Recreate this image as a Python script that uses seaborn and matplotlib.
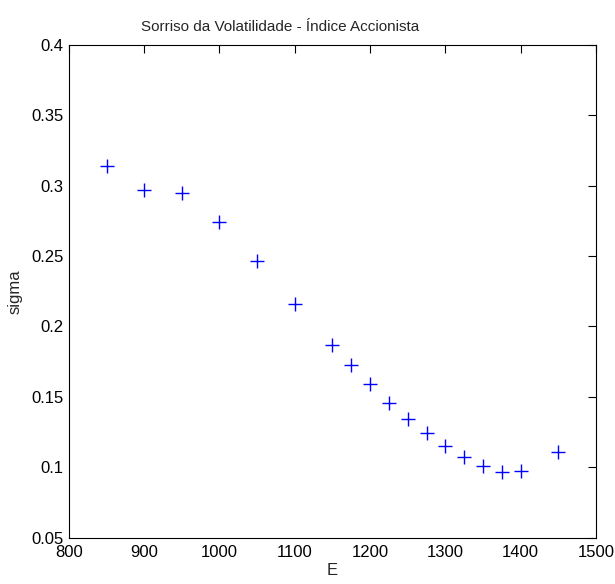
import matplotlib
matplotlib.use("Agg")
import matplotlib.pyplot as plt
import seaborn as sns
import pandas as pd
from matplotlib import font_manager

strike = [850, 900, 950, 1000, 1050, 1100, 1150, 1175, 1200, 1225, 1250,
          1275, 1300, 1325, 1350, 1375, 1400, 1450]
sigma = [0.314, 0.2967, 0.2948, 0.274, 0.2465, 0.216, 0.187, 0.1728, 0.159, 0.146,
         0.1347, 0.1243, 0.1153, 0.1073, 0.101, 0.0966, 0.0977, 0.111]
xticks = [800, 900, 1000, 1100, 1200, 1300, 1400, 1500]
yticks = [0.05, 0.1, 0.15, 0.2, 0.25, 0.3, 0.35, 0.4]
ytick_labels = ["0.05", "0.1", "0.15", "0.2", "0.25", "0.3", "0.35", "0.4"]

sns.set_style("white")
names = {f.name for f in font_manager.fontManager.ttflist}
fam = ['Liberation Sans Narrow', 'Liberation Sans', 'DejaVu Sans']
fam = [f for f in fam if f in names] or ['DejaVu Sans']
plt.rcParams['font.family'] = fam

df = pd.DataFrame({"E": strike, "sigma": sigma})
fig = plt.figure(figsize=(6.15, 5.84), dpi=100)
ax = fig.add_axes([0.112, 0.079, 0.857, 0.8445])
sns.scatterplot(data=df, x="E", y="sigma", marker="+", color="#0000ff",
                s=100, linewidth=1.0, ax=ax)
ax.set_xlim(800, 1500)
ax.set_ylim(0.05, 0.4)
ax.set_xticks(xticks)
ax.set_yticks(yticks)
ax.set_yticklabels(ytick_labels)
ax.tick_params(direction='in', top=True, right=True, length=6, width=0.8,
               labelsize=12, colors='black', pad=4)
ax.tick_params(axis='x', pad=5)
for sp in ax.spines.values():
    sp.set_color('black')
    sp.set_linewidth(0.8)
ax.set_xlabel("E", fontsize=12, labelpad=2)
ax.set_ylabel("sigma", fontsize=12, labelpad=6)
ax.set_title("Sorriso da Volatilidade - Índice Accionista", fontsize=11,
             x=0.40, pad=10)
fig.savefig("out.png", dpi=100)
